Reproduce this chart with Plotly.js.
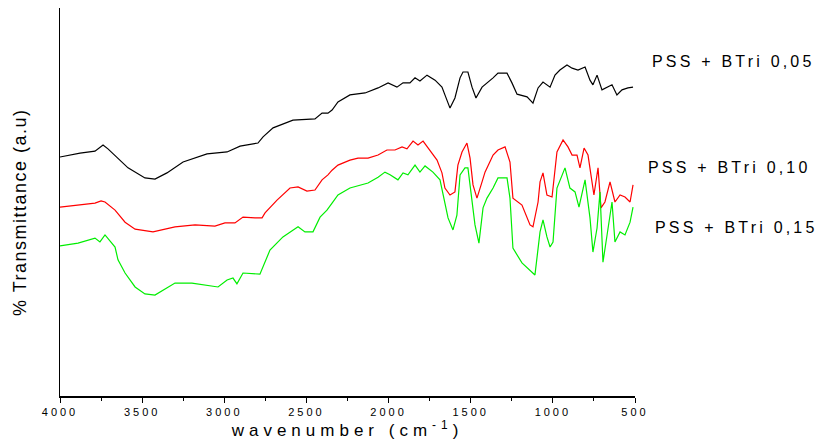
<!DOCTYPE html>
<html>
<head>
<meta charset="utf-8">
<script src="https://cdn.plot.ly/plotly-3.0.1.min.js"></script>
<style>
html,body{margin:0;padding:0;background:#fff;}
#chart{width:824px;height:448px;}
.xtick text{letter-spacing:3px;}
.g-xtitle text{letter-spacing:5px;}
.annotation-text{letter-spacing:3.2px;}
.annotation.ytitle .annotation-text{letter-spacing:1.5px;}
</style>
</head>
<body>
<div id="chart"></div>
<script>
// Wavenumber (cm-1) and transmittance (a.u.)
var wnBlack = [4000,3878,3787,3738,3708,3647,3586,3483,3422,3349,3251,3105,2983,2904,2795,2764,2703,2582,2448,2405,2369,2344,2308,2235,2143,2064,2003,1949,1912,1870,1839,1809,1766,1717,1675,1657,1626,1596,1565,1547,1517,1492,1468,1431,1413,1364,1334,1279,1249,1218,1157,1121,1090,1060,1017,987,957,914,883,847,804,774,756,731,701,670,640,610,579,543,512];
var tBlack = [61.6,62.6,63.1,64.7,63.7,61.3,58.8,56.2,55.9,57.5,60.3,62.4,62.9,64.4,65.2,66.8,69.1,71.1,71.4,72.9,72.9,73.7,75.8,77.6,78.1,79.4,80.7,79.6,80.7,80.7,82.0,81.2,82.7,81.4,79.6,77.6,74.2,76.8,82.0,83.5,83.5,79.6,76.8,79.6,80.2,82.0,83.2,83.2,80.7,77.8,77.1,75.5,79.4,80.9,79.6,82.7,84.0,85.3,84.5,84.0,84.8,81.4,80.2,82.7,78.9,79.6,80.2,77.6,78.9,79.4,79.6];

var wnRed = [4000,3890,3787,3750,3726,3665,3604,3543,3434,3300,3178,3057,2996,2935,2886,2813,2770,2752,2679,2600,2551,2497,2448,2405,2369,2344,2308,2235,2186,2125,2064,2010,1961,1918,1888,1851,1821,1790,1748,1705,1675,1657,1626,1596,1578,1553,1523,1504,1486,1462,1431,1413,1364,1334,1291,1261,1243,1188,1139,1121,1090,1078,1060,1036,1005,975,938,908,883,853,835,810,786,762,750,725,707,683,652,622,591,561,530,512];
var tRed = [48.7,49.2,49.7,50.3,50.0,47.9,44.8,43.0,42.3,43.6,44.1,43.8,44.6,44.6,46.1,45.9,45.9,47.2,50.5,53.6,53.9,52.8,53.1,55.7,57.0,58.2,59.5,60.8,61.3,61.3,62.1,63.4,63.4,64.2,63.7,65.7,64.7,65.7,63.4,60.8,57.5,53.6,51.8,52.6,59.5,62.9,65.2,61.3,54.4,51.0,55.2,57.7,62.1,63.4,64.2,60.3,51.0,49.2,44.1,43.6,50.0,55.2,57.5,51.8,51.3,62.9,66.0,64.2,62.1,62.1,58.8,63.9,62.1,55.2,51.8,58.8,48.5,50.0,55.2,50.0,51.8,51.3,50.0,54.4];

var wnGreen = [4000,3890,3787,3757,3726,3665,3647,3604,3543,3483,3422,3300,3197,3117,3038,2983,2947,2923,2886,2783,2722,2643,2551,2509,2460,2417,2375,2344,2308,2235,2186,2125,2064,2022,1991,1943,1912,1882,1839,1809,1778,1730,1687,1669,1638,1608,1584,1565,1535,1517,1492,1474,1450,1425,1401,1364,1334,1279,1261,1243,1188,1139,1109,1078,1060,1036,1017,999,975,926,896,865,841,804,774,756,731,713,695,670,640,622,591,561,530,512];
var tGreen = [38.7,39.4,40.7,39.7,41.5,38.4,35.1,31.7,28.1,26.3,26.0,29.1,29.1,28.6,28.1,29.9,30.4,28.9,31.7,31.4,37.6,41.0,43.6,42.3,42.3,46.1,47.9,49.7,51.8,53.6,54.1,54.9,56.4,57.7,57.0,55.7,57.5,57.0,59.5,57.7,59.3,57.7,55.7,51.8,45.9,42.8,46.6,57.0,58.8,58.8,50.0,44.1,39.4,48.5,51.0,53.6,56.2,56.2,51.0,38.1,34.3,32.5,31.2,42.3,45.4,41.0,38.4,39.7,53.6,58.8,53.6,52.6,48.7,55.7,45.9,37.1,43.3,52.6,34.5,41.5,50.0,39.7,42.3,41.5,44.8,48.7];

var seriesNames = ["PSS + BTri 0,05","PSS + BTri 0,10","PSS + BTri 0,15"];
var xTickVals = [4000,3500,3000,2500,2000,1500,1000,500];
var xTickText = ["4000","3500","3000","2500","2000","1500","1000","500"];
var yTitle = "% Transmittance (a.u)";
var xTitle = "wavenumber (cm<sup>-1</sup>)";

var fontFam = "Arial, 'Liberation Sans', sans-serif";

var traces = [
  {x: wnBlack, y: tBlack, name: seriesNames[0], mode: "lines", line: {color: "#000000", width: 1.2}},
  {x: wnRed, y: tRed, name: seriesNames[1], mode: "lines", line: {color: "#ff0000", width: 1.2}},
  {x: wnGreen, y: tGreen, name: seriesNames[2], mode: "lines", line: {color: "#00ee00", width: 1.2}}
];

var layout = {
  width: 824, height: 448,
  margin: {l: 60, r: 189, t: 8, b: 52},
  paper_bgcolor: "#ffffff", plot_bgcolor: "#ffffff",
  showlegend: false,
  font: {family: fontFam, color: "#000"},
  xaxis: {
    range: [4000, 500],
    tickvals: xTickVals, ticktext: xTickText,
    ticks: "outside", ticklen: 5, tickwidth: 1, tickcolor: "#000",
    minor: {dtick: 250, ticks: "outside", ticklen: 3, tickwidth: 1, tickcolor: "#000"},
    showline: true, linecolor: "#000", linewidth: 1.5,
    showgrid: false, zeroline: false,
    tickfont: {size: 11, family: fontFam},
    title: {text: xTitle, font: {size: 17, family: fontFam}, standoff: 6}
  },
  yaxis: {
    range: [0, 100],
    showticklabels: false, ticks: "",
    showline: true, linecolor: "#000", linewidth: 1.5,
    showgrid: false, zeroline: false
  },
  annotations: [
    {text: seriesNames[0], xref: "paper", yref: "paper", x: 1.026, y: 0.861, xanchor: "left", yanchor: "middle", showarrow: false, font: {size: 16, family: fontFam}},
    {text: seriesNames[1], xref: "paper", yref: "paper", x: 1.019, y: 0.588, xanchor: "left", yanchor: "middle", showarrow: false, font: {size: 16, family: fontFam}},
    {text: seriesNames[2], xref: "paper", yref: "paper", x: 1.031, y: 0.433, xanchor: "left", yanchor: "middle", showarrow: false, font: {size: 16, family: fontFam}},
    {text: yTitle, name: "ytitle", xref: "paper", yref: "paper", x: -0.07, y: 0.474, xanchor: "center", yanchor: "middle", textangle: -90, showarrow: false, font: {size: 18, family: fontFam}}
  ]
};

Plotly.newPlot("chart", traces, layout, {displayModeBar: false, staticPlot: true}).then(function(){
  var anns = document.querySelectorAll(".annotation");
  if (anns.length) anns[anns.length-1].classList.add("ytitle");
});
</script>
</body>
</html>
